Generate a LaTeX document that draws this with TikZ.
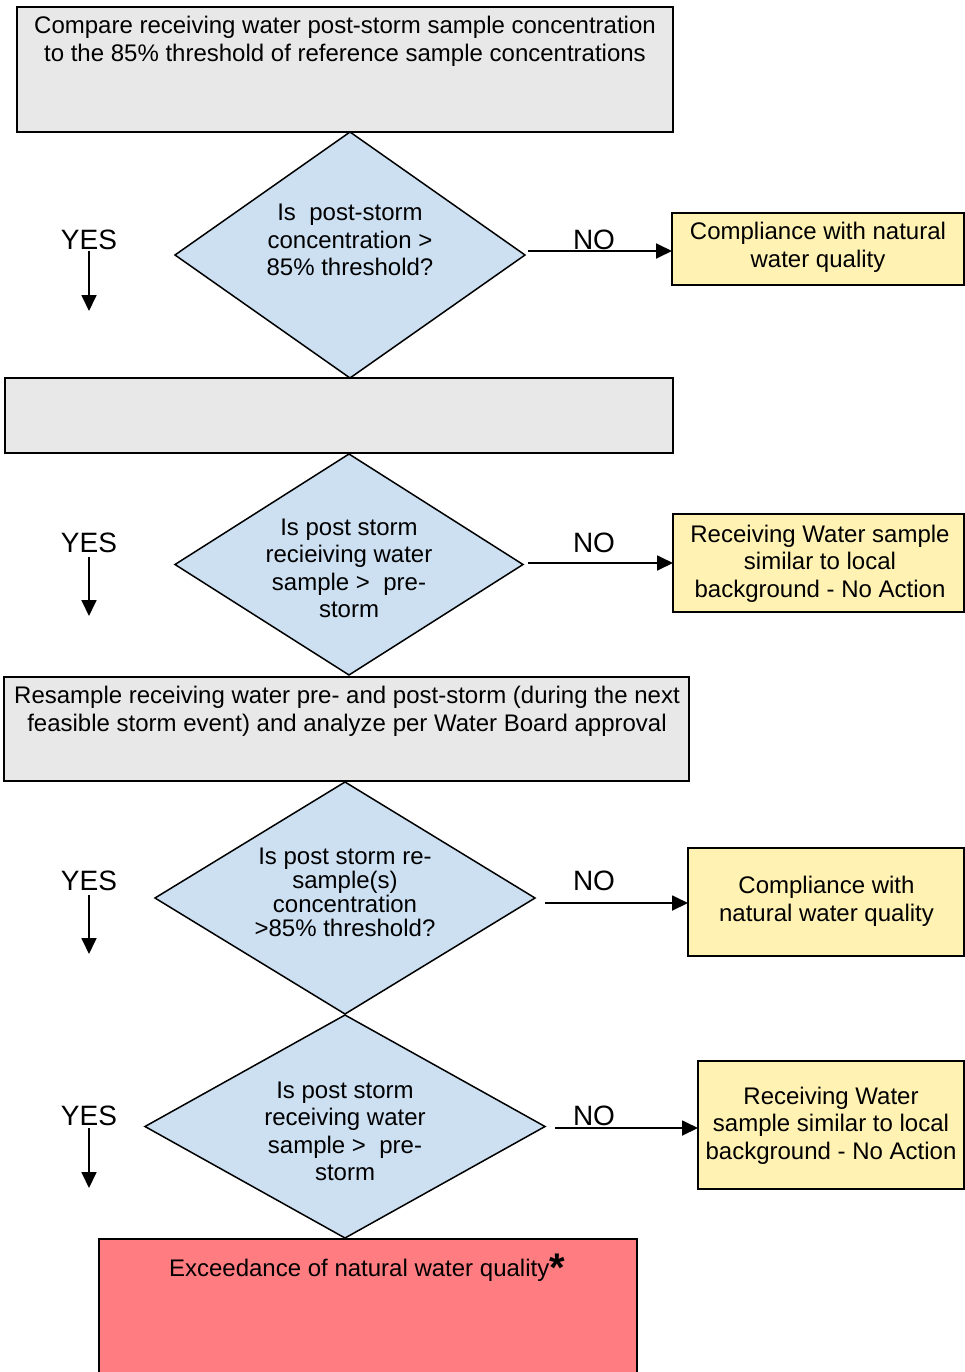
\documentclass[tikz,border=0pt]{standalone}
\usepackage{fontspec}
\setmainfont{Liberation Sans}
\usetikzlibrary{shapes.geometric,arrows.meta}
\definecolor{boxgray}{HTML}{E8E8E8}
\definecolor{dblue}{HTML}{CCE0F2}
\definecolor{ybox}{HTML}{FFF2B3}
\definecolor{rbox}{HTML}{FF7C80}
\begin{document}
\begin{tikzpicture}[x=1pt,y=-1pt,
  txt/.style={font=\fontsize{24}{27.5}\selectfont, align=center, inner sep=0pt},
  yn/.style={font=\fontsize{28}{28}\selectfont, inner sep=0pt, anchor=base},
  graybox/.style={draw, line width=2pt, fill=boxgray, rectangle, inner sep=0pt, outer sep=0pt},
  ybx/.style={draw, line width=2pt, fill=ybox, rectangle, inner sep=0pt, outer sep=0pt},
  dmd/.style={draw, line width=1.5pt, fill=dblue, diamond, inner sep=0pt, outer sep=0pt},
  arr/.style={line width=1.8pt, -{Triangle[length=16pt,width=15pt]}}
]
\useasboundingbox (0,0) rectangle (965,1372);

% boxes
\node[graybox, minimum width=656pt, minimum height=125pt] (b1) at (345,69.5) {};
\node[graybox, minimum width=668pt, minimum height=75pt] (b2) at (339,415.5) {};
\node[graybox, minimum width=685pt, minimum height=104pt] (b3) at (346.5,729) {};
\node[fill=rbox, rectangle, inner sep=0pt, outer sep=0pt, minimum width=538pt, minimum height=133pt] (ex) at (368,1305.5) {};
\draw[line width=2pt] (ex.south west) -- (ex.north west) -- (ex.north east) -- (ex.south east);

% diamonds
\node[dmd, minimum width=350pt, minimum height=246pt] (d1) at (350,255) {};
\node[dmd, minimum width=348pt, minimum height=221pt] (d2) at (349,564.5) {};
\node[dmd, minimum width=380pt, minimum height=232pt] (d3) at (345,898) {};
\node[dmd, minimum width=400pt, minimum height=223pt] (d4) at (345,1126.5) {};

% yellow boxes
\node[ybx, minimum width=292pt, minimum height=72pt] (y1) at (818,249) {};
\node[ybx, minimum width=291pt, minimum height=98pt] (y2) at (818.5,563) {};
\node[ybx, minimum width=276pt, minimum height=108pt] (y3) at (826,902) {};
\node[ybx, minimum width=266pt, minimum height=128pt] (y4) at (831,1125) {};

% texts
\node[txt] (t1) at (345,41.5) {Compare receiving water post-storm sample concentration\\to the 85\% threshold of reference sample concentrations};
\node[txt] (td1) at (350,240) {Is\ \ post-storm\\concentration >\\85\% threshold?};
\node[txt] (ty1) at (818,247.5) {Compliance with natural\\water quality};
\node[txt] (td2) at (349,568.5) {Is post storm\\recieiving water\\sample >\ \ pre-\\storm};
\node[txt] (ty2) at (820,563.5) {Receiving Water sample\\similar to local\\background - No Action};
\node[txt] (t3) at (347,711.5) {Resample receiving water pre- and post-storm (during the next\\feasible storm event) and analyze per Water Board approval};
\node[txt, font=\fontsize{24}{24}\selectfont] (td3) at (345,892) {Is post storm re-\\sample(s)\\concentration\\>85\% threshold?};
\node[txt] (ty3) at (826.5,901.5) {Compliance with\\natural water quality};
\node[txt] (td4) at (345,1131.5) {Is post storm\\receiving water\\sample >\ \ pre-\\storm};
\node[txt] (ty4) at (831,1125.5) {Receiving Water\\sample similar to local\\background - No Action};
\node[txt, anchor=base] (tex) at (367,1276) {Exceedance of natural water quality\raisebox{-5pt}{\fontsize{40}{40}\selectfont\bfseries *}};

% YES / NO labels
\node[yn] (yes1) at (89,249) {YES};
\node[yn] (no1) at (594,249) {NO};
\node[yn] (yes2) at (89,552) {YES};
\node[yn] (no2) at (594,552) {NO};
\node[yn] (yes3) at (89,890) {YES};
\node[yn] (no3) at (594,890) {NO};
\node[yn] (yes4) at (89,1125) {YES};
\node[yn] (no4) at (594,1125) {NO};

% YES arrow ends
\coordinate (ye1) at (89,311);
\coordinate (ye2) at (89,616);
\coordinate (ye3) at (89,954);
\coordinate (ye4) at (89,1188);

\draw[arr] ([yshift=-2pt]yes1.south) -- (ye1);
\draw[arr] ([yshift=-5pt]yes2.south) -- (ye2);
\draw[arr] ([yshift=-5pt]yes3.south) -- (ye3);
\draw[arr] ([yshift=-3pt]yes4.south) -- (ye4);

% NO arrows
\draw[arr] ([xshift=3pt,yshift=4pt]d1.east) -- ([yshift=-2pt]y1.west);
\draw[arr] ([xshift=5pt,yshift=1.5pt]d2.east) -- (y2.west);
\draw[arr] ([xshift=10pt,yshift=-5pt]d3.east) -- (y3.west |- {(0,903)});
\draw[arr] ([xshift=10pt,yshift=-1.5pt]d4.east) -- (y4.west |- {(0,1128)});
\end{tikzpicture}
\end{document}
